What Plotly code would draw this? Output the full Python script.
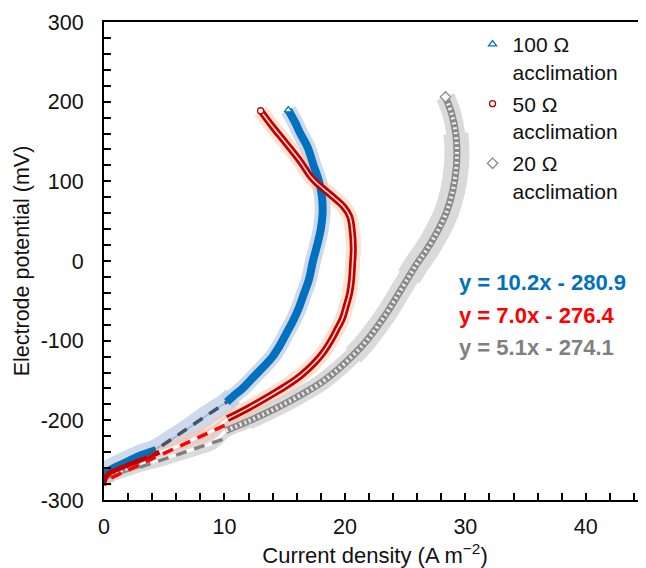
import plotly.graph_objects as go

# ---------------- data ----------------
# 100 Ohm acclimation (x: current density A m-2, y: potential mV)
blue_x = [0.0, 0.1, 0.5, 1.0, 2.0, 3.0, 4.3, 5.5, 7.0, 8.5, 10.2, 10.7, 11.5, 12.2, 13.1, 14.0, 14.6,
          15.1, 15.7, 16.2, 16.6, 17.0, 17.35, 17.7, 18.0, 18.15, 18.1, 17.85, 17.4, 16.9, 16.3, 15.9, 15.3]
blue_y = [-278, -266, -261, -257, -250, -243, -236, -225, -210, -194, -177, -170, -160, -149, -135, -120, -106,
          -92, -75, -58, -41, -24, 0, 20, 40, 60, 80, 100, 120, 143, 160, 173, 189.5]
# 50 Ohm acclimation
red_x = [0.0, 0.1, 0.5, 1.5, 3.0, 4.6, 6.0, 7.5, 9.0, 10.25, 12.05, 14.0, 15.2, 16.4, 17.4, 18.15,
         18.8, 19.3, 19.8, 20.1, 20.4, 20.55, 20.65, 20.7, 20.6, 20.4, 19.9, 19.2, 18.5, 17.8, 17.2,
         16.7, 16.2, 15.1, 14.0, 13.0]
red_y = [-282, -272, -266, -259, -250, -240, -233, -223, -213, -198, -184, -167, -156, -143, -129, -116,
         -101, -87, -72, -57, -40, -24, 0, 15, 39, 56, 68, 78, 87, 96, 105,
         116, 127, 148, 168.5, 188.6]
# 20 Ohm acclimation
gray_x = [0.0, 0.3, 1.0, 2.0, 3.0, 4.5, 6.0, 7.5, 9.0, 10.1, 12.0, 14.0, 16.0, 18.0, 19.5, 20.7,
          21.8, 22.8, 23.7, 24.5, 25.3, 26.0, 26.7, 27.6, 28.4, 28.95, 29.25, 29.3, 29.2, 28.9, 28.35]
gray_y = [-276, -270, -266, -261, -256, -250, -243, -236, -228, -213, -201, -187, -171, -153, -135, -118,
          -100, -80, -60, -40, -20, -3, 12, 35, 60, 88, 118, 140, 160, 183, 206]

# linear-fit segments (end points as read)
blue_fit_x = [3.5, 10.2]
blue_fit_y = [-245.2, -176.9]
red_fit_x = [0.6, 10.2]
red_fit_y = [-272.2, -205.0]
gray_fit_x = [3.0, 10.2]
gray_fit_y = [-258.8, -222.1]

series_names = ["100 Ω<br>acclimation", "50 Ω<br>acclimation", "20 Ω<br>acclimation"]
equations = ["y = 10.2x - 280.9", "y = 7.0x - 276.4", "y = 5.1x - 274.1"]
eq_y = [-26.5, -68, -109]
eq_x = 29.3

x_ticks = [0, 10, 20, 30, 40]
x_labels = ["0", "10", "20", "30", "40"]
y_ticks = [-300, -200, -100, 0, 100, 200, 300]
y_labels = ["-300", "-200", "-100", "0", "100", "200", "300"]

# segment split indices: [lower colored | faded fit region | upper colored]
blue_split = (6, 10)
red_split = (5, 9)
gray_split = (4, 9)

FONT = "Liberation Sans, Arial, sans-serif"
BLUE, BLUE_BAND, BLUE_DASH = "#0070C0", "rgba(190,206,228,0.75)", "#44546A"
RED, RED_BAND, RED_DASH = "#C00000", "rgba(247,195,160,0.5)", "#FF0000"
GRAY, GRAY_BAND, GRAY_DASH = "#8A8A8A", "#DADADA", "#808080"

fig = go.Figure()


def line(x, y, color, width, dash=None, shape="spline"):
    fig.add_trace(go.Scatter(x=x, y=y, mode="lines",
                             line=dict(color=color, width=width, dash=dash, shape=shape),
                             hoverinfo="skip", showlegend=False))


# ---- bands ----
line(gray_x[:12], gray_y[:12], GRAY_BAND, 14)
line(gray_x[10:17], gray_y[10:17], GRAY_BAND, 17)
line(gray_x[15:22], gray_y[15:22], GRAY_BAND, 21)
line(gray_x[20:29], gray_y[20:29], GRAY_BAND, 25)
line(gray_x[27:], gray_y[27:], GRAY_BAND, 19)
line(gray_x[29:], gray_y[29:], GRAY_BAND, 15)
line(blue_x[:12], blue_y[:12], BLUE_BAND, 20)
line(blue_x[10:], blue_y[10:], BLUE_BAND, 16)
line(red_x, red_y, RED_BAND, 15)

# ---- faded (fit-region) markers ----
a, b = gray_split
line(gray_x[a:b + 1], gray_y[a:b + 1], "#DCDCDC", 7)
line(gray_x[a:b + 1], gray_y[a:b + 1], "white", 3)
a, b = red_split
line(red_x[a:b + 1], red_y[a:b + 1], "#F5C6C0", 7)
line(red_x[a:b + 1], red_y[a:b + 1], "white", 3)
a, b = blue_split
line(blue_x[a:b + 1], blue_y[a:b + 1], "#8FB4E0", 1.5)

# ---- colored chains ----
a, b = gray_split
line(gray_x[:a + 1], gray_y[:a + 1], GRAY, 6)
line(gray_x[b:], gray_y[b:], GRAY, 7)
line(gray_x[b:], gray_y[b:], "rgba(255,255,255,0.85)", 4, dash="2px,3px")
line(gray_x[:a + 1], gray_y[:a + 1], "rgba(255,255,255,0.8)", 2.5, dash="2px,3px")
a, b = blue_split
line(blue_x[:a + 1], blue_y[:a + 1], BLUE, 6)
line(blue_x[b:], blue_y[b:], BLUE, 8)
a, b = red_split
line(red_x[:a + 1], red_y[:a + 1], RED, 5)
line(red_x[b:], red_y[b:], RED, 7)
line(red_x[b:], red_y[b:], "rgba(255,235,235,0.9)", 1.6)

# ---- linear fits ----
line(gray_fit_x, gray_fit_y, GRAY_DASH, 3.5, dash="11px,8px", shape="linear")
line(red_fit_x, red_fit_y, RED_DASH, 3.5, dash="11px,8px", shape="linear")
line(blue_fit_x, blue_fit_y, BLUE_DASH, 3.5, dash="11px,8px", shape="linear")

# ---- end markers (also legend entries) ----
for i, (xs, ys, col, sym, sz) in enumerate([
    (blue_x, blue_y, BLUE, "triangle-up", 7),
    (red_x, red_y, RED, "circle", 6),
    (gray_x, gray_y, GRAY, "diamond", 8),
]):
    fig.add_trace(go.Scatter(x=[xs[-1]], y=[ys[-1]], mode="markers", name=series_names[i],
                             legendgroup=f"g{i}",
                             marker=dict(symbol=sym, size=sz, color="white",
                                         line=dict(color=col, width=1.3)),
                             hoverinfo="skip"))

# ---- equations ----
for txt, yy, col in zip(equations, eq_y, [BLUE, "#FF0000", "#808080"]):
    fig.add_annotation(x=eq_x, y=yy, xref="x", yref="y", text=f"<b>{txt}</b>",
                       showarrow=False, xanchor="left", yanchor="middle",
                       font=dict(family=FONT, size=22, color=col))

axis_common = dict(ticks="inside", ticklen=7, tickwidth=1.5, tickcolor="black",
                   showline=True, linewidth=2, linecolor="black",
                   showgrid=False, zeroline=False, automargin=False,
                   tickfont=dict(family=FONT, size=21.5, color="#111111"))

# the page body has an 8px default margin, so the figure is sized to fit inside it
fig.update_layout(
    width=638, height=560,
    margin=dict(l=96, r=0, t=14, b=68),
    paper_bgcolor="white", plot_bgcolor="white",
    font=dict(family=FONT, color="#111111"),
    xaxis=dict(range=[0, 45], tickvals=x_ticks, ticktext=x_labels, mirror=True,
               minor=dict(dtick=2, tick0=0, ticks="inside", ticklen=7, tickwidth=1.5, tickcolor="black"),
               ticklabelstandoff=6,
               title=dict(text="Current density (A m<sup>−2</sup>)", font=dict(family=FONT, size=22),
                          standoff=14),
               **axis_common),
    yaxis=dict(range=[-300, 300], tickvals=y_ticks, ticktext=y_labels,
               minor=dict(dtick=20, tick0=0, ticks="inside", ticklen=7, tickwidth=1.5, tickcolor="black"),
               ticklabelstandoff=14,
               title=dict(text="Electrode potential (mV)", font=dict(family=FONT, size=21.5),
                          standoff=5),
               **axis_common),
    legend=dict(x=0.68, y=0.996, xanchor="left", yanchor="top", valign="top",
                bgcolor="rgba(0,0,0,0)", font=dict(family=FONT, size=21, color="#111111"),
                itemwidth=30, traceorder="grouped", tracegroupgap=2),
    showlegend=True,
)

fig.write_html("out.html")
